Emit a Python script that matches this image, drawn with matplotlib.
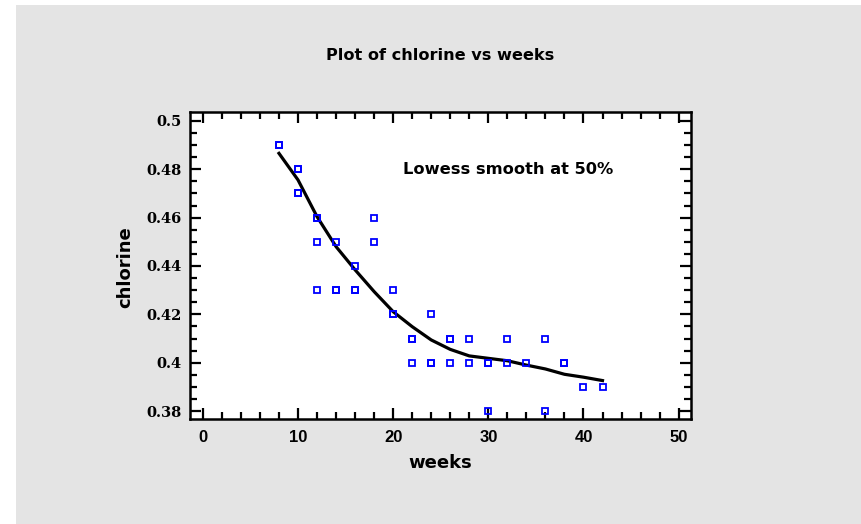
import matplotlib
matplotlib.use("Agg")
import matplotlib.pyplot as plt
from matplotlib.patches import Rectangle
from matplotlib.ticker import MultipleLocator

# chlorine data (weeks, chlorine)
weeks = [8, 8, 10, 10, 10, 10, 12, 12, 12, 12, 14, 14, 14, 16, 16, 16, 18, 18,
         20, 20, 20, 22, 22, 22, 24, 24, 24, 26, 26, 26, 28, 28, 30, 30, 30,
         32, 32, 34, 36, 36, 38, 38, 40, 42]
chlorine = [0.49, 0.49, 0.48, 0.47, 0.48, 0.47, 0.46, 0.46, 0.45, 0.43, 0.45,
            0.43, 0.43, 0.44, 0.43, 0.43, 0.46, 0.45, 0.42, 0.42, 0.43, 0.41,
            0.41, 0.40, 0.42, 0.40, 0.40, 0.41, 0.40, 0.41, 0.41, 0.40, 0.40,
            0.40, 0.38, 0.41, 0.40, 0.40, 0.41, 0.38, 0.40, 0.40, 0.39, 0.39]

# lowess curve
smooth_x = [8, 10, 12, 14, 16, 18, 20, 22, 24, 26, 28, 30, 32, 34, 36, 38, 40, 42]
smooth_y = [0.4866, 0.4756, 0.4604, 0.4480, 0.4384, 0.4294, 0.4211, 0.4149,
            0.4094, 0.4055, 0.4028, 0.4018, 0.4008, 0.3990, 0.3974, 0.3952,
            0.3940, 0.3926]

xticks = [0, 10, 20, 30, 40, 50]
yticks = [0.38, 0.40, 0.42, 0.44, 0.46, 0.48, 0.50]
ylabels = ["0.38", "0.4", "0.42", "0.44", "0.46", "0.48", "0.5"]

plt.rcParams["font.family"] = ["DejaVu Sans"]
plt.rcParams["font.weight"] = "bold"

fig = plt.figure(figsize=(8.61, 5.24), dpi=100)
fig.patch.set_facecolor("white")
fig.patches.append(Rectangle((16 / 861, 0), 1 - 16 / 861, 1 - 5 / 524,
                             transform=fig.transFigure, facecolor="#e4e4e4",
                             edgecolor="none", zorder=-1))

ax = fig.add_axes([190 / 861, 1 - 419 / 524, 501 / 861, 307 / 524])
ax.set_facecolor("white")

ax.plot(smooth_x, smooth_y, color="black", linewidth=2.3)
ax.plot(weeks, chlorine, linestyle="none", marker="s", markersize=4.6,
        markerfacecolor="none", markeredgecolor="#0000ff", markeredgewidth=1.3)

ax.set_xlim(-1.35, 51.3)
ax.set_ylim(0.3767, 0.5037)
ax.xaxis.set_minor_locator(MultipleLocator(2))
ax.yaxis.set_minor_locator(MultipleLocator(0.005))
ax.set_xticks(xticks)
ax.set_xticklabels([str(t) for t in xticks], family="Liberation Sans",
                   fontsize=12, fontweight="bold")
ax.set_yticks(yticks)
ax.set_yticklabels(ylabels, family="DejaVu Serif", fontsize=10.5,
                   fontweight="bold")

ax.tick_params(which="both", direction="in", top=True, right=True, width=1.6)
ax.tick_params(axis="x", pad=8)
ax.tick_params(axis="y", pad=6)
ax.tick_params(which="major", length=8)
ax.tick_params(which="minor", length=5)
for s in ax.spines.values():
    s.set_linewidth(1.8)

ax.text(32.1, 0.4801, "Lowess smooth at 50%", ha="center", va="center",
        fontsize=11.7, fontweight="bold")

fig.text(440 / 861, 1 - 56 / 524, "Plot of chlorine vs weeks", ha="center",
         va="center", fontsize=11.6, fontweight="bold")
fig.text(440 / 861, 1 - 463 / 524, "weeks", ha="center", va="center",
         fontsize=13, fontweight="bold")
fig.text(125 / 861, 1 - 267 / 524, "chlorine", ha="center", va="center",
         rotation=90, fontsize=13, fontweight="bold")

fig.savefig("out.png", dpi=100)
